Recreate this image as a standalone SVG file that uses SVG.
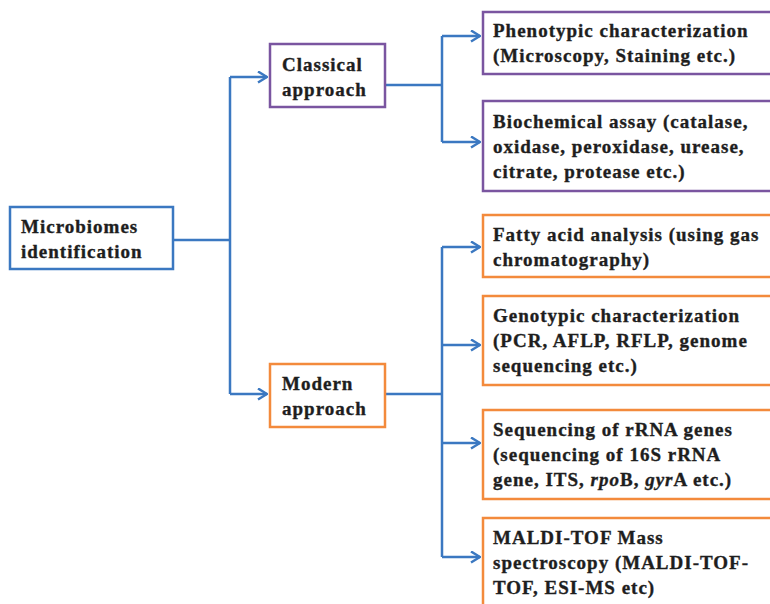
<svg xmlns="http://www.w3.org/2000/svg" width="770" height="604" viewBox="0 0 770 604">
<defs>
<style>
.box{fill:#ffffff;stroke-width:2.5}
.blue{stroke:#3b78c1}
.purple{stroke:#7a55a0}
.orange{stroke:#f38a3c}
.t{font-family:"Liberation Serif","Times New Roman",serif;font-weight:bold;font-size:19px;letter-spacing:1px;fill:#1e1e1e;stroke:#1e1e1e;stroke-width:0.35}
.c{fill:none;stroke:#3b78c1;stroke-width:2.5}
</style>
<marker id="arr" viewBox="0 0 11 13" refX="10" refY="6.5" markerWidth="11" markerHeight="13" markerUnits="userSpaceOnUse" orient="auto">
<path d="M1,1 L10,6.5 L1,12" fill="none" stroke="#3b78c1" stroke-width="2.5"/>
</marker>
</defs>
<rect width="770" height="604" fill="#ffffff"/>
<g id="connectors">
<path class="c" d="M173,240 H230"/>
<path class="c" d="M230,77 V394"/>
<path class="c" d="M230,77 H267" marker-end="url(#arr)"/>
<path class="c" d="M230,394 H267" marker-end="url(#arr)"/>
<path class="c" d="M385,85 H442"/>
<path class="c" d="M442,36 V142"/>
<path class="c" d="M442,36 H480" marker-end="url(#arr)"/>
<path class="c" d="M442,142 H480" marker-end="url(#arr)"/>
<path class="c" d="M385,394 H442"/>
<path class="c" d="M442,247 V557"/>
<path class="c" d="M442,247 H480" marker-end="url(#arr)"/>
<path class="c" d="M442,345 H480" marker-end="url(#arr)"/>
<path class="c" d="M442,443 H480" marker-end="url(#arr)"/>
<path class="c" d="M442,557 H480" marker-end="url(#arr)"/>
</g>
<g id="microbiomes">
<rect class="box blue" x="10" y="207" width="163" height="62"/>
<text class="t" x="21" y="233">Microbiomes</text>
<text class="t" x="21" y="258">identification</text>
</g>
<g id="classical">
<rect class="box purple" x="270" y="44" width="115" height="63"/>
<text class="t" x="282" y="71">Classical</text>
<text class="t" x="282" y="96">approach</text>
</g>
<g id="modern">
<rect class="box orange" x="270" y="364" width="115" height="63"/>
<text class="t" x="282" y="390">Modern</text>
<text class="t" x="282" y="415">approach</text>
</g>
<g id="phenotypic">
<rect class="box purple" x="483" y="12" width="310" height="62"/>
<text class="t" x="493" y="37">Phenotypic characterization</text>
<text class="t" x="493" y="62">(Microscopy, Staining etc.)</text>
</g>
<g id="biochemical">
<rect class="box purple" x="483" y="101" width="310" height="90"/>
<text class="t" x="493" y="128">Biochemical assay (catalase,</text>
<text class="t" x="493" y="153">oxidase, peroxidase, urease,</text>
<text class="t" x="493" y="178">citrate, protease etc.)</text>
</g>
<g id="fatty">
<rect class="box orange" x="483" y="215" width="310" height="62"/>
<text class="t" x="493" y="241">Fatty acid analysis (using gas</text>
<text class="t" x="493" y="266">chromatography)</text>
</g>
<g id="genotypic">
<rect class="box orange" x="483" y="296" width="310" height="89"/>
<text class="t" x="493" y="322">Genotypic characterization</text>
<text class="t" x="493" y="347">(PCR, AFLP, RFLP, genome</text>
<text class="t" x="493" y="372">sequencing etc.)</text>
</g>
<g id="sequencing">
<rect class="box orange" x="483" y="410" width="310" height="89"/>
<text class="t" x="493" y="436">Sequencing of rRNA genes</text>
<text class="t" x="493" y="461">(sequencing of 16S rRNA</text>
<text class="t" x="493" y="486">gene, ITS, <tspan font-style="italic">rpo</tspan>B, <tspan font-style="italic">gyr</tspan>A etc.)</text>
</g>
<g id="maldi">
<rect class="box orange" x="483" y="518" width="310" height="110"/>
<text class="t" x="493" y="544">MALDI-TOF Mass</text>
<text class="t" x="493" y="569">spectroscopy (MALDI-TOF-</text>
<text class="t" x="493" y="594">TOF, ESI-MS etc)</text>
</g>
</svg>
